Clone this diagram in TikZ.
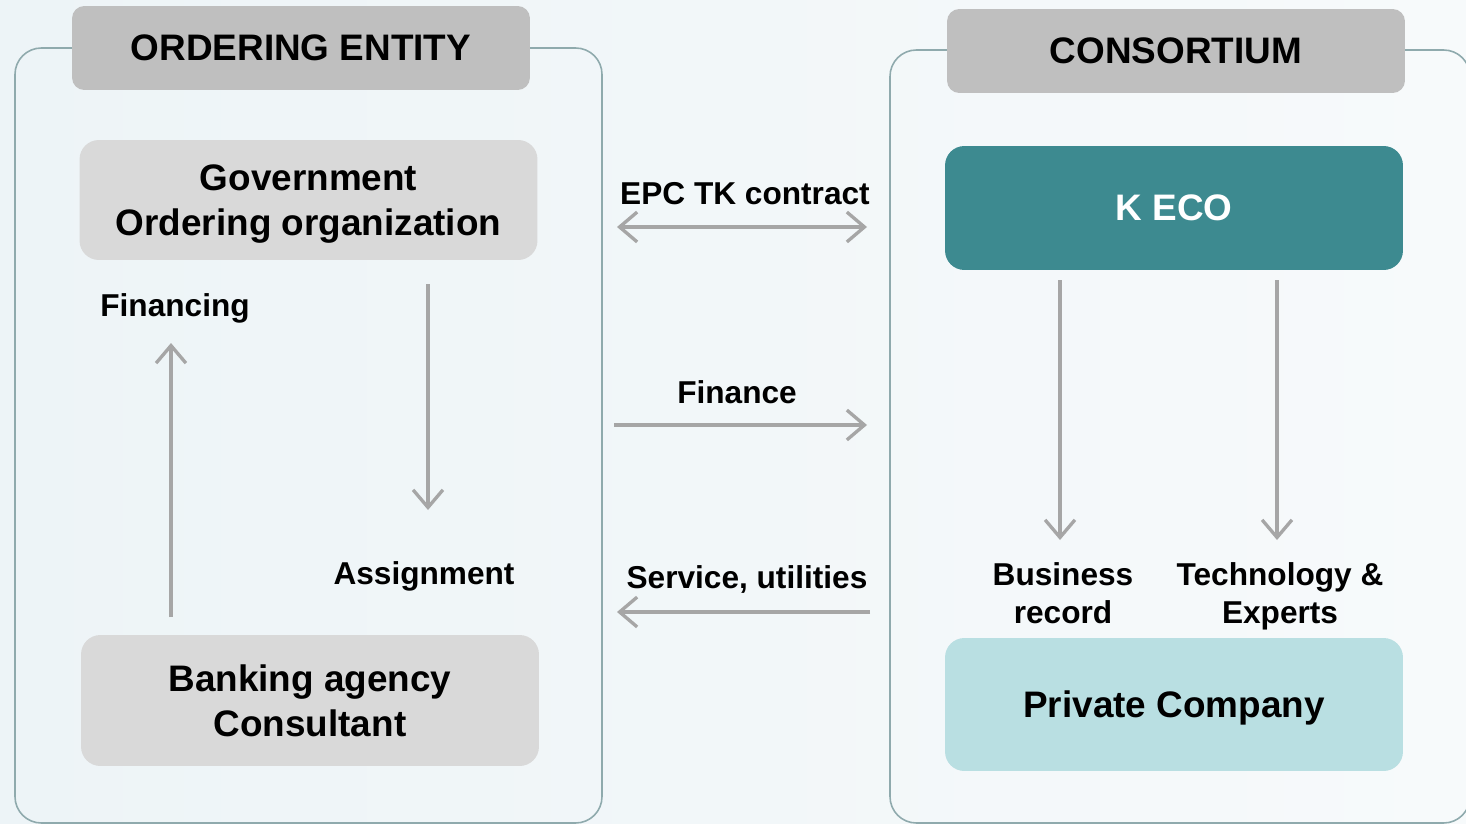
\documentclass[tikz,border=0pt]{standalone}
\usepackage{fontspec}
\setmainfont{Liberation Sans}
\usetikzlibrary{arrows.meta}

\definecolor{framegray}{HTML}{8FAAAD}
\definecolor{hdrgray}{HTML}{BFBFBF}
\definecolor{boxgray}{HTML}{D9D9D9}
\definecolor{keco}{HTML}{3D8A90}
\definecolor{lightteal}{HTML}{B9DFE2}
\definecolor{arrowgray}{HTML}{A6A6A6}
\definecolor{bgleft}{HTML}{EDF4F7}
\definecolor{bgright}{HTML}{F7FAFB}

\begin{document}
\begin{tikzpicture}[x=0.02cm,y=-0.02cm,
        hdr/.style={fill=hdrgray, rounded corners=7pt, minimum width=9.16cm, minimum height=1.68cm,
                font=\bfseries\fontsize{21}{25}\selectfont},
        box/.style={rounded corners=11pt, minimum width=9.16cm, align=center, text depth=0pt,
                font=\bfseries\fontsize{21}{25.5}\selectfont},
        lbl/.style={font=\bfseries\fontsize{18}{21.5}\selectfont, align=center},
        barb/.tip={Straight Barb[length=10pt,width=17pt]},
        flow/.style={draw=arrowgray, line width=1.9pt, -barb},
        frame/.style={draw=framegray, line width=0.9pt, rounded corners=15pt}]

    \clip (0,0) rectangle (1466,824); % page size of the reference
    \shade[left color=bgleft, middle color=white, right color=bgright] (0,0) rectangle (1466,824);

    % the two outer frames, headers sit on their top lines
    \draw[frame] (15,48) rectangle (602,823);
    \draw[frame] (890,50) rectangle (1470,823);
    \node[hdr] (ordhdr) at (301,48) {ORDERING ENTITY};
    \node[hdr] (conhdr) at (1176,51) {CONSORTIUM};

    % boxes
    \node[box, fill=boxgray, minimum height=2.4cm] (gov) at (308.5,200) {Government\\Ordering organization};
    \node[box, fill=boxgray, minimum height=2.62cm] (bank) at (310,700.5) {Banking agency\\Consultant};
    \node[box, fill=keco, text=white, minimum height=2.48cm] (keco) at (1174,208) {K ECO};
    \node[box, fill=lightteal, minimum height=2.66cm] (priv) at (1174,704.5) {Private Company};

    % labels
    \node[lbl, anchor=base] (financing) at (175,316) {Financing};
    \node[lbl, anchor=base] (assign) at (424,584) {Assignment};
    \node[lbl, anchor=base] (epc) at (745,205) {EPC TK contract};
    \node[lbl, anchor=base] (fin) at (737,403) {Finance};
    \node[lbl, anchor=base] (serv) at (747,588) {Service, utilities};
    \node[lbl, text depth=0pt] (bizrec) at (1063,593) {Business\\record};
    \node[lbl, text depth=0pt] (techexp) at (1280,593) {Technology \&\\Experts};

    % arrow ends
    \coordinate (epcL) at (617,227);  \coordinate (epcR) at (867,227);
    \coordinate (finL) at (614,425);  \coordinate (finR) at (867,425);
    \coordinate (servR) at (870,612); \coordinate (servL) at (617,612);
    \coordinate (bankTop) at (171,617); \coordinate (govLow) at (171,343);
    \coordinate (govBot) at (428,284);  \coordinate (assTop) at (428,510);

    \draw[flow, barb-barb] (epcL) -- (epcR);
    \draw[flow] (finL) -- (finR);
    \draw[flow] (servR) -- (servL);
    \draw[flow] (bankTop) -- (govLow);
    \draw[flow] (govBot) -- (assTop);
    \foreach \xx/\nm in {1060/biz,1277/tech}{   % the two arrows out of K ECO
            \coordinate (\nm-a) at (\xx,280);
            \coordinate (\nm-b) at (\xx,540);
            \draw[flow] (\nm-a) -- (\nm-b);
        }
\end{tikzpicture}
\end{document}
